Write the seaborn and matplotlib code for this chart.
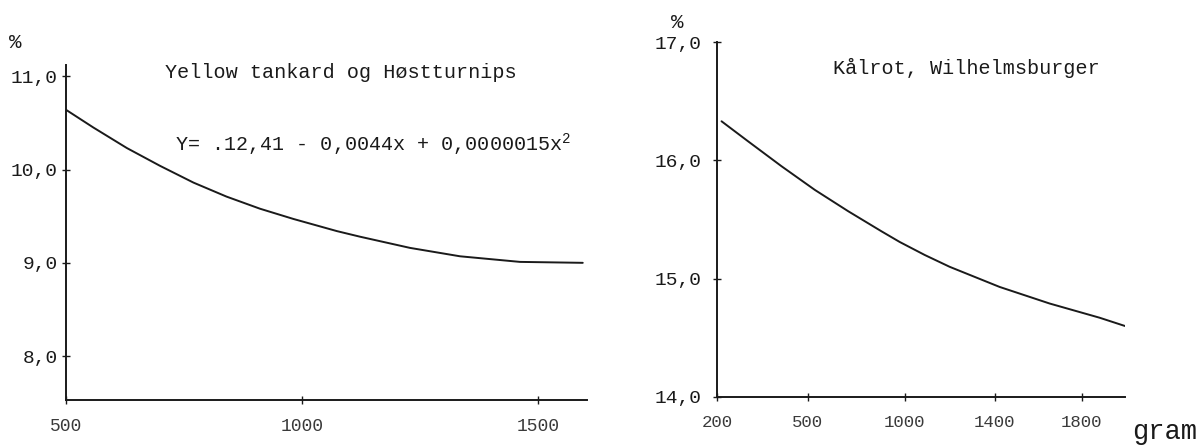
import numpy as np
import pandas as pd
import matplotlib
matplotlib.use("Agg")
import matplotlib.pyplot as plt
import seaborn as sns

# ---- data ----
left_x = [500, 558, 629, 699, 770, 840, 911, 982, 1074, 1123, 1229, 1335, 1462, 1595]
left_y = [10.64, 10.45, 10.23, 10.04, 9.86, 9.71, 9.58, 9.47, 9.34, 9.28, 9.16, 9.07, 9.01, 9.00]
left_xticks = [500, 1000, 1500]
left_yticks = [8.0, 9.0, 10.0, 11.0]
left_ylabels = ["8,0", "9,0", "10,0", "11,0"]

right_x = [215, 303, 413, 536, 708, 880, 974, 1089, 1200, 1423, 1653, 1883, 2000]
right_y = [16.33, 16.16, 15.95, 15.75, 15.57, 15.40, 15.31, 15.20, 15.10, 14.93, 14.79, 14.67, 14.60]
right_xticks = [200, 500, 1000, 1400, 1800]
right_yticks = [14.0, 15.0, 16.0, 17.0]
right_ylabels = ["14,0", "15,0", "16,0", "17,0"]

title_left = "Yellow tankard og Høstturnips"
equation = "Y= .12,41 - 0,0044x + 0,0000015x$^2$"
title_right = "Kålrot, Wilhelmsburger"

sns.set_style("ticks")
plt.rcParams["font.family"] = ["Liberation Mono", "DejaVu Sans Mono"]
plt.rcParams["mathtext.fontset"] = "custom"
plt.rcParams["mathtext.rm"] = "Liberation Mono"

fig = plt.figure(figsize=(12.03, 4.45), dpi=100)
W, H = 1203, 445

def px_axes(l, t, r, b):
    return fig.add_axes([l / W, 1 - b / H, (r - l) / W, (b - t) / H])

ink = "#1a1a1a"
tickc = "#3a3a3a"

def style_axes(ax, ypad):
    ax.set_xlabel("")
    ax.set_ylabel("")
    ax.tick_params(axis="both", direction="inout", length=6, width=1, color=ink)
    ax.tick_params(axis="x", pad=10)
    ax.tick_params(axis="y", pad=ypad)
    for s in ["top", "right"]:
        ax.spines[s].set_visible(False)
    for s in ["left", "bottom"]:
        ax.spines[s].set_linewidth(1.4)
        ax.spines[s].set_color(ink)

# ---------- left chart ----------
axL = px_axes(66, 65, 587, 400)
dfL = pd.DataFrame({"x": left_x, "y": left_y})
sns.lineplot(data=dfL, x="x", y="y", ax=axL, color=ink, linewidth=1.4)
axL.set_xlim(500, 1604)
axL.set_ylim(7.53, 11.12)
axL.set_xticks(left_xticks)
axL.set_xticklabels([str(v) for v in left_xticks], color=tickc, fontsize=13)
axL.set_yticks(left_yticks)
axL.set_yticklabels(left_ylabels, fontsize=14, color=ink)
style_axes(axL, 3)
fig.text(165 / W, 1 - 72 / H, title_left, fontsize=14.5, va="center", ha="left", color=ink)
fig.text(175 / W, 1 - 145 / H, equation, fontsize=14.5, va="center", ha="left", color=ink)
fig.text(15 / W, 1 - 42 / H, "%", fontsize=15, va="center", ha="center", color=ink)

# ---------- right chart (uneven gram axis) ----------
scale_g = np.array(right_xticks + [2200], dtype=float)
scale_p = np.array([0, 91, 188, 278, 365, 452], dtype=float)

def fwd(g):
    return np.interp(g, scale_g, scale_p)

def inv(p):
    return np.interp(p, scale_p, scale_g)

axR = px_axes(717, 42, 1125, 397)
axR.set_xscale("function", functions=(fwd, inv))
dfR = pd.DataFrame({"x": right_x, "y": right_y})
sns.lineplot(data=dfR, x="x", y="y", ax=axR, color=ink, linewidth=1.4)
axR.set_xlim(200, 2000)
axR.set_ylim(14.0, 17.0)
axR.set_xticks(right_xticks)
axR.set_xticklabels([str(v) for v in right_xticks], color=tickc, fontsize=12.5)
axR.set_xticks([], minor=True)
axR.set_yticks(right_yticks)
axR.set_yticklabels(right_ylabels, fontsize=14, color=ink)
style_axes(axR, 8)
fig.text(833 / W, 1 - 68 / H, title_right, fontsize=14.5, va="center", ha="left", color=ink)
fig.text(677 / W, 1 - 22 / H, "%", fontsize=15, va="center", ha="center", color=ink)
fig.text(1165 / W, 1 - 432 / H, "gram", fontsize=19.5, va="center", ha="center", color=ink)

fig.savefig("out.png", dpi=100)
